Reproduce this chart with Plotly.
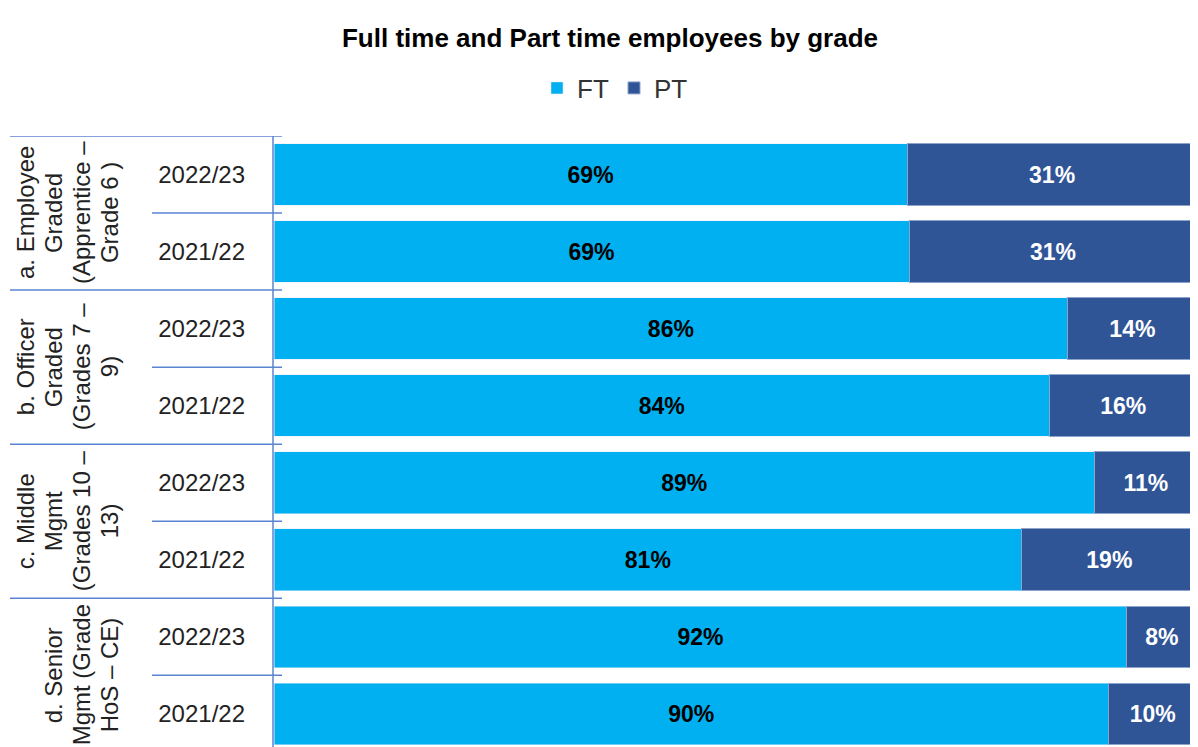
import plotly.graph_objects as go

groups = [
    ["a. Employee", "Graded", "(Apprentice –", "Grade 6 )"],
    ["b. Officer", "Graded", "(Grades 7 –", "9)"],
    ["c. Middle", "Mgmt", "(Grades 10 –", "13)"],
    ["d. Senior", "Mgmt (Grade", "HoS – CE)"],
]
years = ["2022/23", "2021/22"]
ft = [68.6, 68.8, 86.0, 84.0, 88.9, 81.0, 92.4, 90.4]
pt = [31.4, 31.2, 14.0, 16.0, 11.1, 19.0, 7.6, 9.6]

cats = []
ticktext = []
for gi in range(len(groups)):
    for yr in years:
        cats.append(f"{gi}|{yr}")
        ticktext.append(yr)

FT_COL = "#00B0F0"
PT_COL = "#2F5597"
LINE_COL = "#5B84D0"
TXT = "#222222"
FONT = "Liberation Sans, Arial, sans-serif"

fig = go.Figure()
fig.add_trace(go.Bar(
    y=cats, x=ft, name="FT", orientation="h",
    marker=dict(color=FT_COL),
    texttemplate="<b>%{x:.0f}%</b>",
    textposition="inside", insidetextanchor="middle",
    textfont=dict(color="black", size=23, family=FONT),
    hovertemplate="%{y}: %{x}%<extra>FT</extra>",
))
fig.add_trace(go.Bar(
    y=cats, x=pt, name="PT", orientation="h",
    marker=dict(color=PT_COL, line=dict(color="#8EA3CC", width=1)),
    texttemplate="<b>%{x:.0f}%</b>",
    textposition="inside", insidetextanchor="middle",
    textfont=dict(color="white", size=23, family=FONT),
    hovertemplate="%{y}: %{x}%<extra>PT</extra>",
))

# page is offset 8px by the body margin; helpers take screen pixels
L, R, T, B = 266, 9, 128, 8
plot_w = 1198 - L - R
plot_h = 747 - T - B
def px(sx):
    return (sx - 8 - L) / plot_w
def py(sy):
    return (747 - B - (sy - 8)) / plot_h

shapes = []
for i in range(len(cats)):
    start = px(10) if i % 2 == 0 else px(152)
    shapes.append(dict(type="line", xref="paper", yref="y",
                       x0=start, x1=px(282), y0=i - 0.5, y1=i - 0.5,
                       line=dict(color=LINE_COL, width=1.5)))
shapes.append(dict(type="line", xref="paper", yref="paper",
                   x0=px(273), x1=px(273), y0=0, y1=1,
                   line=dict(color=LINE_COL, width=1.5)))

annotations = []
for gi, lines in enumerate(groups):
    n = len(lines)
    for k, line in enumerate(lines):
        annotations.append(dict(
            text=line, xref="paper", yref="y",
            x=px(109 - (n - 1 - k) * 28), y=gi * 2 + 0.5,
            xanchor="center", yanchor="middle", textangle=-90,
            showarrow=False, font=dict(size=24, color=TXT, family=FONT),
        ))

fig.update_layout(
    width=1198, height=747,
    barmode="stack", bargap=0.2,
    plot_bgcolor="white", paper_bgcolor="white",
    margin=dict(l=L, r=R, t=T, b=B),
    title=dict(text="<b>Full time and Part time employees by grade</b>",
               x=602 / 1198, xref="container", xanchor="center",
               y=1 - 30 / 747, yanchor="middle",
               font=dict(size=26, color="black", family=FONT)),
    legend=dict(orientation="h", x=px(537), xanchor="left",
                y=py(88), yanchor="middle",
                font=dict(size=26, color="#333333", family=FONT),
                itemwidth=30, entrywidth=32, traceorder="normal"),
    xaxis=dict(range=[0, 100], showgrid=False, showticklabels=False,
               zeroline=False, fixedrange=True),
    yaxis=dict(type="category", range=[7.43, -0.5], tickvals=cats,
               ticktext=ticktext, ticks="", showgrid=False,
               ticklabelstandoff=28,
               tickfont=dict(size=24, color=TXT, family=FONT)),
    shapes=shapes, annotations=annotations,
    font=dict(family=FONT),
)

fig.write_html("out.html")
